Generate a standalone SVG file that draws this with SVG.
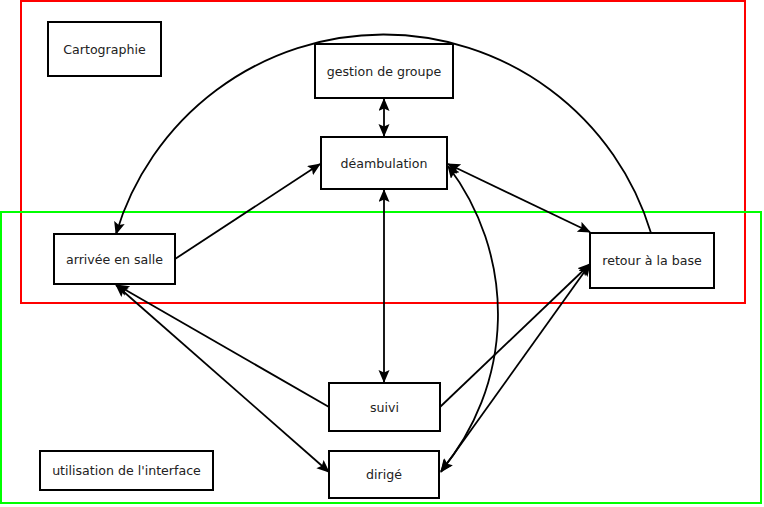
<svg xmlns="http://www.w3.org/2000/svg" width="764" height="507" viewBox="0 0 764 507">
<style>
.box{fill:#fff;stroke:#000;stroke-width:2}
.lbl{font-family:"DejaVu Sans",sans-serif;font-size:12.6px;fill:#222;text-anchor:middle}
.c{fill:none;stroke:#000;stroke-width:1.8}
.frame{fill:none;stroke-width:2}
</style>
<defs>
<marker id="ah" markerUnits="userSpaceOnUse" markerWidth="14" markerHeight="12" refX="12" refY="5.5" orient="auto-start-reverse" viewBox="0 0 14 12">
<path d="M0,0 L13,5.5 L0,11 L2.5,5.5 z" fill="#000"/>
</marker>
</defs>
<rect class="frame" x="21" y="1" width="724" height="302" stroke="#ff0000"/>
<rect class="frame" x="1" y="212" width="760" height="291" stroke="#00ff00"/>
<g id="connectors">
<line class="c" x1="384" y1="99" x2="384" y2="136" marker-start="url(#ah)" marker-end="url(#ah)"/>
<line class="c" x1="384" y1="190" x2="384" y2="382" marker-start="url(#ah)" marker-end="url(#ah)"/>
<line class="c" x1="175" y1="259" x2="320" y2="164" marker-end="url(#ah)"/>
<line class="c" x1="448" y1="164" x2="590" y2="232" marker-start="url(#ah)" marker-end="url(#ah)"/>
<path class="c" d="M651,233 A279.3,279.3 0 0 0 116,234" marker-end="url(#ah)"/>
<line class="c" x1="329" y1="407" x2="117" y2="285" marker-end="url(#ah)"/>
<line class="c" x1="329" y1="472" x2="116" y2="285" marker-start="url(#ah)" marker-end="url(#ah)"/>
<line class="c" x1="440" y1="407" x2="590" y2="264" marker-end="url(#ah)"/>
<line class="c" x1="441" y1="472" x2="590" y2="264" marker-start="url(#ah)" marker-end="url(#ah)"/>
<path class="c" d="M448,166 A244.5,244.5 0 0 1 441,471" marker-start="url(#ah)" marker-end="url(#ah)"/>
</g>
<g id="cartographie"><rect class="box" x="48" y="22" width="113" height="54"/><text class="lbl" x="104.5" y="53.5">Cartographie</text></g>
<g id="gestion"><rect class="box" x="315" y="44" width="138" height="54"/><text class="lbl" x="384" y="75.5">gestion de groupe</text></g>
<g id="deambulation"><rect class="box" x="321" y="137" width="126" height="52"/><text class="lbl" x="384" y="167.5">déambulation</text></g>
<g id="arrivee"><rect class="box" x="54" y="234" width="121" height="50"/><text class="lbl" x="114.5" y="263.5">arrivée en salle</text></g>
<g id="retour"><rect class="box" x="590" y="233" width="124" height="55"/><text class="lbl" x="652" y="265">retour à la base</text></g>
<g id="suivi"><rect class="box" x="329" y="383" width="111" height="48"/><text class="lbl" x="384.5" y="411.5">suivi</text></g>
<g id="dirige"><rect class="box" x="329" y="451" width="110" height="47"/><text class="lbl" x="384" y="479">dirigé</text></g>
<g id="interface"><rect class="box" x="40" y="451" width="173" height="39"/><text class="lbl" x="126.5" y="475">utilisation de l'interface</text></g>
</svg>
